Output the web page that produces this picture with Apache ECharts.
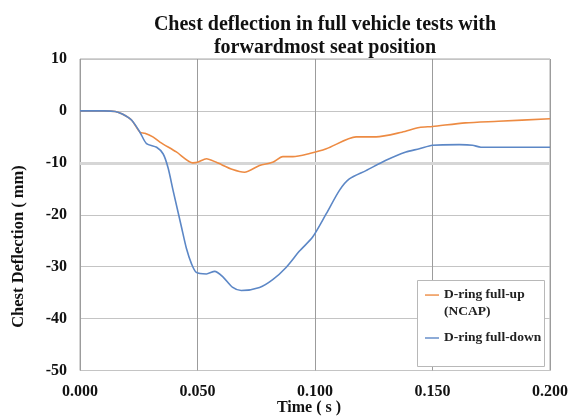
<!DOCTYPE html>
<html><head><meta charset="utf-8">
<script src="https://cdn.jsdelivr.net/npm/echarts@6/dist/echarts.min.js"></script>
<style>html,body{margin:0;padding:0;background:#fff}#c{width:571px;height:416px}</style>
</head><body><div id="c"></div>
<script>
const titleText = 'Chest deflection in full vehicle tests with\nforwardmost seat position';
const xName = 'Time ( s )';
const yName = 'Chest Deflection ( mm)';
const seriesNames = ['D-ring full-up\n(NCAP)', 'D-ring full-down'];

const timeUp = [0, 0.010, 0.015, 0.018, 0.022, 0.0255, 0.0276, 0.031, 0.034, 0.041, 0.048, 0.050, 0.0538, 0.058, 0.065, 0.070, 0.0764, 0.082, 0.0863, 0.0906, 0.0977, 0.1048, 0.1175, 0.126, 0.137, 0.1444, 0.150, 0.164, 0.178, 0.200];
const valueUp = [0, 0, -0.1, -0.6, -1.8, -4.1, -4.3, -5.0, -6.0, -7.9, -10.0, -9.9, -9.2, -9.9, -11.3, -11.8, -10.5, -9.9, -8.8, -8.8, -8.2, -7.3, -5.0, -5.0, -4.1, -3.2, -3.0, -2.3, -2.0, -1.5];

const timeDown = [0, 0.010, 0.015, 0.018, 0.022, 0.0255, 0.0283, 0.0326, 0.0354, 0.0375, 0.0396, 0.0432, 0.0453, 0.0475, 0.0495, 0.0538, 0.0573, 0.0609, 0.065, 0.0686, 0.0764, 0.082, 0.0878, 0.0934, 0.099, 0.1048, 0.1104, 0.1146, 0.1217, 0.1302, 0.1387, 0.1444, 0.150, 0.1614, 0.167, 0.1706, 0.1854, 0.200];
const valueDown = [0, 0, -0.1, -0.6, -1.8, -4.1, -6.3, -7.0, -8.3, -11.0, -15.3, -22.4, -26.5, -29.5, -31.1, -31.4, -30.9, -32.0, -34.0, -34.6, -34.0, -32.5, -30.1, -27.0, -24.3, -19.8, -15.3, -13.1, -11.5, -9.5, -7.9, -7.3, -6.6, -6.5, -6.6, -7.0, -7.0, -7.0];

const zip = (a, b) => a.map((v, i) => [v, b[i]]);
const serif = '"Liberation Serif","Times New Roman",serif';
const colUp = '#ED8B43', colDown = '#5C87C6';

const chart = echarts.init(document.getElementById('c'), null, {renderer: 'canvas'});
chart.setOption({
  animation: false,
  backgroundColor: '#fff',
  title: {
    text: titleText,
    left: 320, top: 8, textAlign: 'center',
    textStyle: {fontFamily: serif, fontWeight: 'bold', fontSize: 20, lineHeight: 23, color: '#111'}
  },
  grid: {left: 80, right: 20, top: 59, bottom: 45.5, show: true, borderColor: '#a8a8a8', borderWidth: 1},
  xAxis: {
    type: 'value', min: 0, max: 0.2, interval: 0.05,
    axisLine: {show: false}, axisTick: {show: false},
    axisLabel: {fontFamily: serif, fontWeight: 'bold', fontSize: 16, color: '#111', margin: 13,
      formatter: v => v.toFixed(3)},
    splitLine: {show: true, lineStyle: {color: '#9c9c9c', width: 1}}
  },
  yAxis: {
    type: 'value', min: -50, max: 10, interval: 10,
    axisLine: {show: false}, axisTick: {show: false},
    axisLabel: {fontFamily: serif, fontWeight: 'bold', fontSize: 16, color: '#111', margin: 13},
    splitLine: {show: true, lineStyle: {color: '#c4c4c4', width: 1}}
  },
  legend: {
    orient: 'vertical', left: 425, top: 286.75, padding: 0, z: 6,
    itemWidth: 14, itemHeight: 33, itemGap: 1.75,
    data: [
      {name: seriesNames[0], icon: 'path://M0,0 M0,7.6 L14,7.6 L14,9 L0,9 Z M14,33'},
      {name: seriesNames[1], icon: 'path://M0,0 M0,15.8 L14,15.8 L14,17.2 L0,17.2 Z M14,33'}
    ],
    textStyle: {fontFamily: serif, fontWeight: 'bold', fontSize: 13.5, color: '#222', lineHeight: 16.5}
  },
  graphic: [
    {type: 'rect', z: 5, shape: {x: 417.5, y: 280.5, width: 127, height: 86}, style: {fill: '#fff', stroke: '#b8b8b8', lineWidth: 1}},
    {type: 'text', x: 19, y: 246.5, rotation: Math.PI / 2,
      style: {text: yName, font: 'bold 16.5px ' + serif, fill: '#111', align: 'center', verticalAlign: 'middle'}},
    {type: 'text', x: 309, y: 408,
      style: {text: xName, font: 'bold 16px ' + serif, fill: '#111', align: 'center', verticalAlign: 'middle'}}
  ],
  series: [
    {name: seriesNames[0], type: 'line', data: zip(timeUp, valueUp), showSymbol: false, smooth: 0.25,
      lineStyle: {color: colUp, width: 1.6}, itemStyle: {color: colUp},
      markLine: {silent: true, symbol: 'none', label: {show: false}, data: [{yAxis: -10}],
        lineStyle: {color: '#d6d6d6', width: 3, type: 'solid'}, z: 1}},
    {name: seriesNames[1], type: 'line', data: zip(timeDown, valueDown), showSymbol: false, smooth: 0.25,
      lineStyle: {color: colDown, width: 1.6}, itemStyle: {color: colDown}}
  ]
});
</script></body></html>
